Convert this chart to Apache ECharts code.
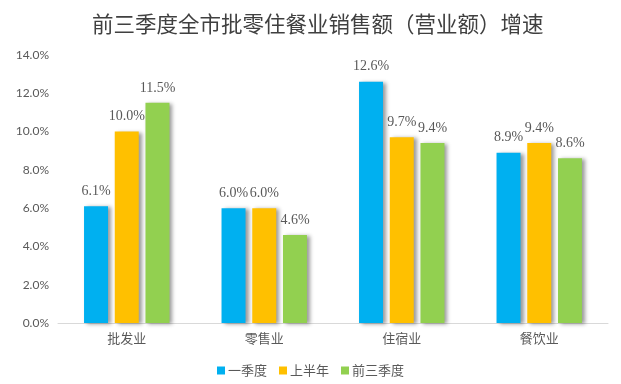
<!DOCTYPE html>
<html><head><meta charset="utf-8">
<script src="https://cdn.jsdelivr.net/npm/echarts@6/dist/echarts.min.js"></script>
<style>html,body{margin:0;padding:0;background:#fff}#c{width:621px;height:384px}</style>
</head><body><div id="c"></div>
<script>
const categories = ['批发业','零售业','住宿业','餐饮业'];
const seriesNames = ['一季度','上半年','前三季度'];
const q1 = [6.1, 6.0, 12.6, 8.9];
const h1 = [10.0, 6.0, 9.7, 9.4];
const q3 = [11.5, 4.6, 9.4, 8.6];
const colors = ['#00B0F0','#FFC000','#92D050'];
const chart = echarts.init(document.getElementById('c'));
const mk = (name, data, i) => ({
  name, type:'bar', data, barWidth:24, barGap:'28%',
  itemStyle:{color:colors[i], shadowColor:'rgba(0,0,0,0.4)', shadowBlur:4, shadowOffsetX:3, shadowOffsetY:1},
  label:{show:true, position:'top', distance:8, formatter: p => p.value.toFixed(1)+'%', fontFamily:'Liberation Serif', fontSize:14, color:'#595959'}
});
chart.setOption({
  animation:false,
  title:{text:'前三季度全市批零住餐业销售额（营业额）增速', left:87, top:8,
    textStyle:{fontFamily:'Noto Sans CJK SC', fontSize:21.5, fontWeight:'normal', color:'#404040'}},
  legend:{top:359, left:'center', itemWidth:8, itemHeight:8, itemGap:12, icon:'rect',
    textStyle:{fontFamily:'Noto Sans CJK SC', fontSize:13, color:'#595959', padding:[0,0,0,-2]}},
  grid:{left:58, right:13, top:55, bottom:61},
  xAxis:{type:'category', data:categories,
    axisLine:{lineStyle:{color:'#D9D9D9'}}, axisTick:{show:false},
    axisLabel:{fontFamily:'Noto Sans CJK SC', fontSize:13, color:'#595959', margin:9}},
  yAxis:{type:'value', min:0, max:14, interval:2,
    axisLabel:{formatter: v => v.toFixed(1)+'%', fontFamily:'Lato', fontSize:12, color:'#595959', margin:9},
    splitLine:{show:false}, axisLine:{show:false}, axisTick:{show:false}},
  series:[mk(seriesNames[0], q1, 0), mk(seriesNames[1], h1, 1), mk(seriesNames[2], q3, 2)]
});
</script></body></html>
